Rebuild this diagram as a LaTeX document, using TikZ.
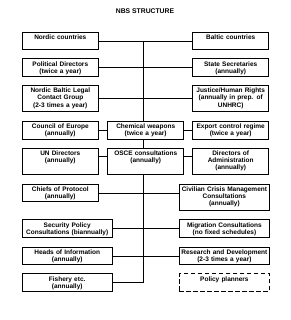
\documentclass[tikz,border=0pt]{standalone}
\usepackage{fontspec}
\setmainfont{Liberation Sans}
\usetikzlibrary{calc,positioning,backgrounds}

\begin{document}
\begin{tikzpicture}[x=1pt,y=-1pt,
    box/.style={draw,fill=white,line width=0.9pt,anchor=north,align=center,
      inner xsep=2pt,inner ysep=2pt,text width=72pt,text height=5.3pt,text depth=8.3pt,
      font=\bfseries\fontsize{6.5}{7.2}\selectfont},
    wide/.style={text width=86pt},
    tall/.style={text depth=17.2pt},
    link/.style={line width=0.8pt}]
        \useasboundingbox (0,0) rectangle (290,320);
        % Title
        \node[font=\bfseries\fontsize{6.8}{8}\selectfont] (title) at (145,10.7) {NBS STRUCTURE};
        % Spine position
        \coordinate (spine) at (143.5,0);
        % Row 1 to 3
        \node[box] (nordic) at (60.3,31.7) {Nordic countries};
        \node[box] (baltic) at (230.7,31.7) {Baltic countries};
        \node[box] (poldir) at (60.3,58.3) {Political Directors\\(twice a year)};
        \node[box] (statesec) at (230.7,58.3) {State Secretaries\\(annually)};
        \node[box,tall] (legal) at (60.3,85) {Nordic Baltic Legal\\Contact Group\\(2-3 times a year)};
        \node[box,tall] (justice) at (230.7,85) {Justice/Human Rights\\(annually in prep. of\\UNHRC)};
        % Row 4 and 5, three boxes
        \node[box] (coe) at (60.3,121) {Council of Europe\\(annually)};
        \node[box] (chem) at (145.7,121) {Chemical weapons\\(twice a year)};
        \node[box] (export) at (230.7,121) {Export control regime\\(twice a year)};
        \node[box,tall] (undir) at (60.3,147.7) {UN Directors\\(annually)};
        \node[box,tall] (osce) at (145.7,147.7) {OSCE consultations\\(annually)};
        \node[box,tall] (admin) at (230.7,147.7) {Directors of\\Administration\\(annually)};
        % Row 6 to 9
        \node[box] (protocol) at (60.3,183.7) {Chiefs of Protocol\\(annually)};
        \node[box,wide,tall] (crisis) at (224.4,183.7) {Civilian Crisis Management\\Consultations\\(annually)};
        \node[box,wide] (secpol) at (67.2,219.3) {Security Policy\\Consultations (biannually)};
        \node[box,wide] (migration) at (224.4,219.3) {Migration Consultations\\(no fixed schedules)};
        \node[box,wide] (info) at (67.2,246.7) {Heads of Information\\(annually)};
        \node[box,wide] (research) at (224.4,246.7) {Research and Development\\(2-3 times a year)};
        \node[box,wide] (fishery) at (67.2,273.3) {Fishery etc.\\(annually)};
        \node[box,wide,dash pattern=on 4.5pt off 2.5pt] (planners) at (224.4,273.3) {Policy planners};
        % Links
        \begin{scope}[on background layer]
        \draw[link] (nordic.east -| spine) -- (fishery.east -| spine);
        \end{scope}
        \draw[link] (nordic) -- (baltic);
        \draw[link] (poldir) -- (statesec);
        \draw[link] (legal) -- (justice);
        \draw[link] (coe) -- (chem);
        \draw[link] (chem) -- (export);
        \draw[link] ($(undir.north east)+(0,9)$) -- ($(osce.north west)+(0,9)$);
        \draw[link] ($(osce.north east)+(0,9)$) -- ($(admin.north west)+(0,9)$);
        \draw[link] (protocol.east) -- (protocol.east -| crisis.west);
        \draw[link] (secpol) -- (migration);
        \draw[link] (info) -- (research);
        \draw[link] (fishery.east) -- (fishery.east -| spine);
\end{tikzpicture}
\end{document}
